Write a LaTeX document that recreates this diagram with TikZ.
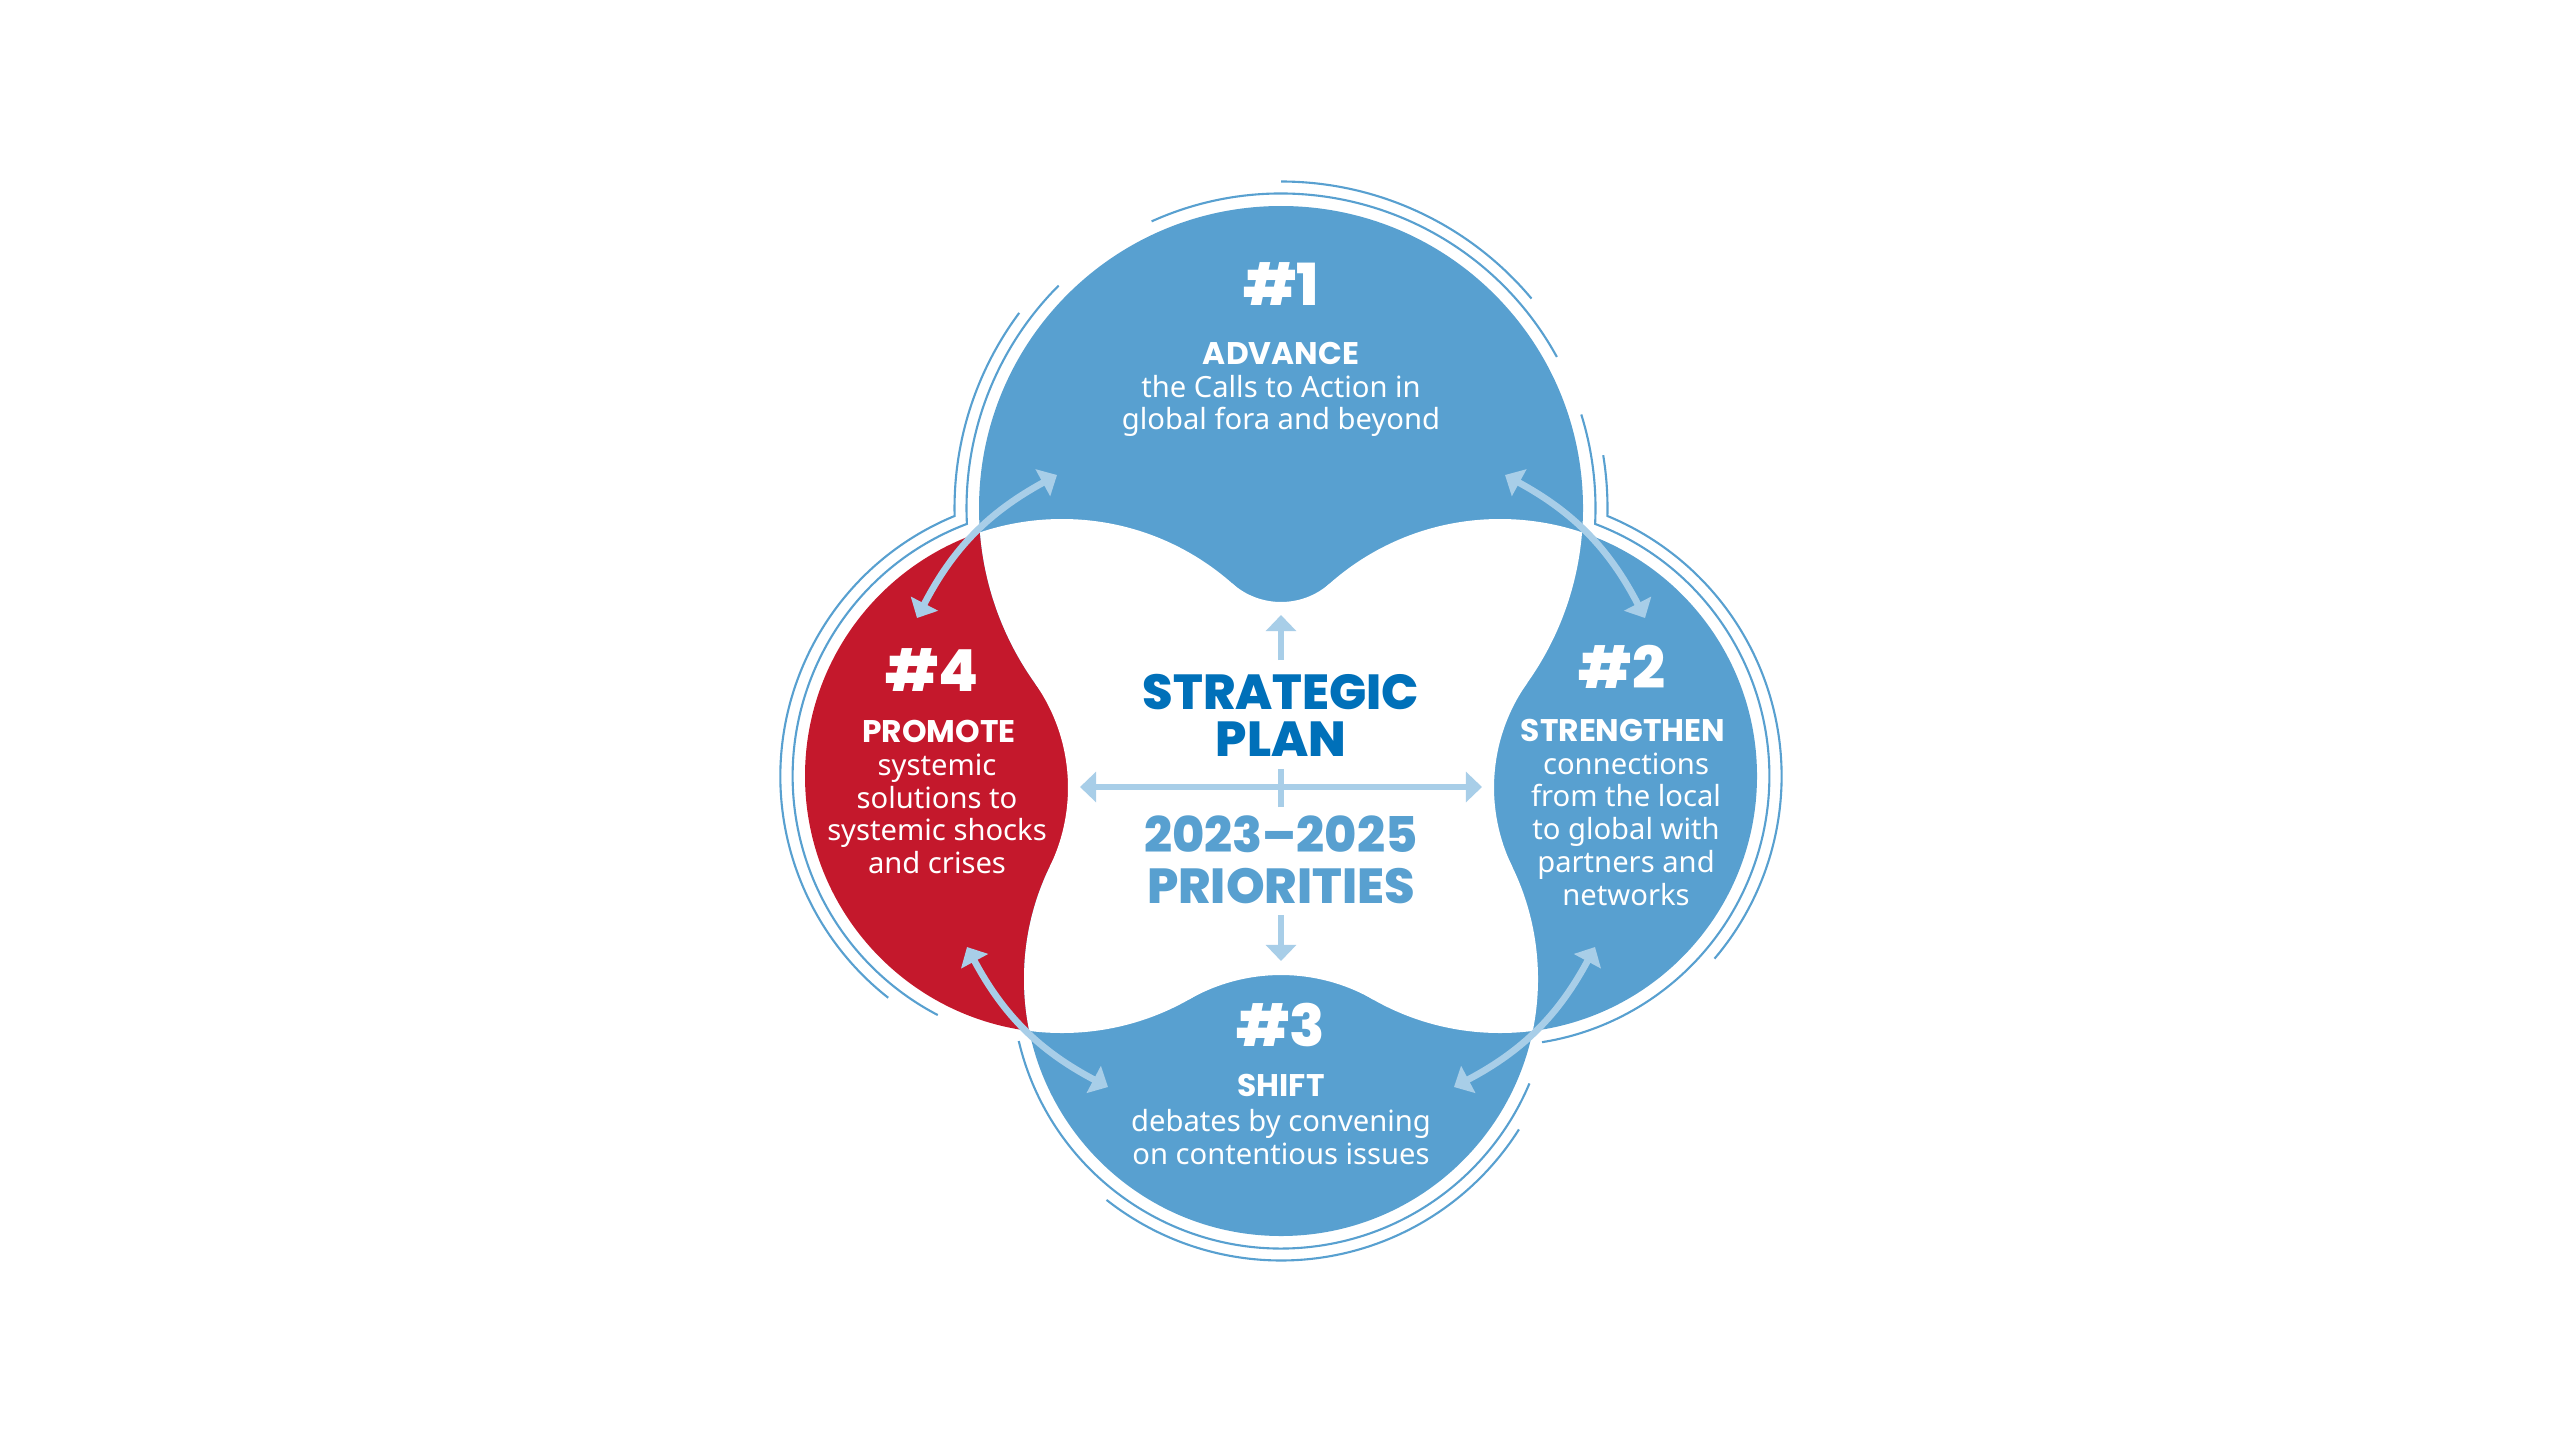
\documentclass[tikz,border=0pt]{standalone}
\usepackage{fontspec}
\setmainfont{Noto Sans}
\newfontfamily\headfont{Poppins}
\newfontfamily\heavyfont{Poppins ExtraBold}
\usetikzlibrary{arrows.meta}
\definecolor{lobeblue}{HTML}{58A0D0}
\definecolor{lobered}{HTML}{C4182C}
\definecolor{linkblue}{HTML}{A8CEE8}
\definecolor{planblue}{HTML}{0070B9}

\begin{document}
\begin{tikzpicture}[x=0.01cm,y=0.01cm,>={Triangle[width=8.5pt,length=4.6pt]},
  link/.style={linkblue,line width=1.9pt},
  rim/.style={lobeblue,line width=0.6pt},
  num/.style={white,font=\heavyfont\fontsize{16.5}{17}\selectfont},
  word/.style={white,font=\headfont\bfseries\fontsize{8.9}{10}\selectfont},
  body/.style={white,align=center,font=\fontsize{8.3}{9.3}\selectfont},
  plantext/.style={align=center,font=\heavyfont\fontsize{14}{13.4}\selectfont}]
\useasboundingbox (0,0) rectangle (2561,1441);

\coordinate (T) at (1281,933);
\coordinate (R) at (1500,665);
\coordinate (B) at (1281,462);
\coordinate (L) at (1062,665);

\fill[lobered] (L) circle[radius=257];
\fill[lobeblue] (R) circle[radius=257];
\fill[lobeblue] (B) circle[radius=257];
\fill[lobeblue] (T) circle[radius=302];

\begin{scope}
\clip (T) circle[radius=302];
\fill[white] (L) circle[radius=257] (R) circle[radius=257] (B) circle[radius=257];
\end{scope}
\begin{scope}
\clip (B) circle[radius=257];
\fill[white] (L) circle[radius=257] (R) circle[radius=257];
\end{scope}
\begin{scope}
\clip (L) circle[radius=257];
\fill[white] (R) circle[radius=257];
\end{scope}

\coordinate (nubT) at (1281,912.4);
\coordinate (nubB) at (1281,280.5);
\coordinate (nubR) at (1675,653.5);
\coordinate (nubL) at (887,653.5);
\coordinate (mid) at (1281,654);
\fill[white] (nubT) ++(228.5:73.4) arc[start angle=228.5,end angle=311.5,radius=73.4] -- (mid) -- cycle;
\fill[white] (nubB) ++(60.3:185.5) arc[start angle=60.3,end angle=119.7,radius=185.5] -- (mid) -- cycle;
\fill[white] (nubR) ++(144.6:181) arc[start angle=144.6,end angle=205.9,radius=181] -- (mid) -- cycle;
\fill[white] (nubL) ++(-25.9:181) arc[start angle=-25.9,end angle=35.4,radius=181] -- (mid) -- cycle;

\draw[rim] (T) ++(135:314.5) arc[start angle=135,end angle=182.9,radius=314.5] arc[start angle=110.7,end angle=242.5,radius=269.5];
\draw[rim] (T) ++(28.7:314.5) arc[start angle=28.7,end angle=114.3,radius=314.5];
\draw[rim] (T) ++(17.3:314.5) arc[start angle=17.3,end angle=-2.9,radius=314.5] arc[start angle=69.3,end angle=-81,radius=269.5];
\draw[rim] (B) ++(193.3:269.5) arc[start angle=193.3,end angle=337.2,radius=269.5];
\draw[rim] (T) ++(143.3:326.5) arc[start angle=143.3,end angle=181.4,radius=326.5] arc[start angle=112.4,end angle=231.9,radius=281.5];
\draw[rim] (T) ++(39.9:326.5) arc[start angle=39.9,end angle=90,radius=326.5];
\draw[rim] (T) ++(9.3:326.5) arc[start angle=9.3,end angle=-1.4,radius=326.5] arc[start angle=67.6,end angle=-40.4,radius=281.5];
\draw[rim] (B) ++(231.7:281.5) arc[start angle=231.7,end angle=327.7,radius=281.5];

\coordinate (west) at (1080,654);
\coordinate (east) at (1482,654);
\coordinate (tickS) at (1281,634);
\coordinate (tickN) at (1281,672);
\coordinate (upS) at (1281,781);
\coordinate (upN) at (1281,826);
\coordinate (downN) at (1281,526);
\coordinate (downS) at (1281,480);
\draw[link,<->] (west) -- (east);
\draw[link] (tickS) -- (tickN);
\draw[link,->] (upS) -- (upN);
\draw[link,->] (downN) -- (downS);

\coordinate (tlA) at (1057,966);
\coordinate (tlB) at (917,823);
\coordinate (trA) at (1505,966);
\coordinate (trB) at (1645,823);
\coordinate (blA) at (967,494);
\coordinate (blB) at (1108,354);
\coordinate (brA) at (1595,494);
\coordinate (brB) at (1454,354);
\draw[link,<->] (tlA) to[bend right=17] (tlB);
\draw[link,<->] (trA) to[bend left=17] (trB);
\draw[link,<->] (blA) to[bend right=17] (blB);
\draw[link,<->] (brA) to[bend left=17] (brB);

\node[num] (n1) at (1281,1157) {\#1};
\node[word] (w1) at (1281,1088) {ADVANCE};
\node[body] (b1) at (1281,1035) {the Calls to Action in\\global fora and beyond};

\node[num] (n2) at (1622,774) {\#2};
\node[word] (w2) at (1623,711) {STRENGTHEN};
\node[body] (b2) at (1626,612) {connections\\from the local\\to global with\\partners and\\networks};

\node[num] (n3) at (1281,416) {\#3};
\node[word] (w3) at (1281,356) {SHIFT};
\node[body] (b3) at (1281,304) {debates by convening\\on contentious issues};

\node[num] (n4) at (932,771) {\#4};
\node[word] (w4) at (939,710) {PROMOTE};
\node[body] (b4) at (937,627) {systemic\\solutions to\\systemic shocks\\and crises};

\node[plantext,planblue] (plan) at (1281,725.5) {STRATEGIC\\PLAN};
\node[plantext,lobeblue,font=\heavyfont\fontsize{14}{14.5}\selectfont] (prio) at (1281,581.5) {2023–2025\\PRIORITIES};

\end{tikzpicture}
\end{document}
